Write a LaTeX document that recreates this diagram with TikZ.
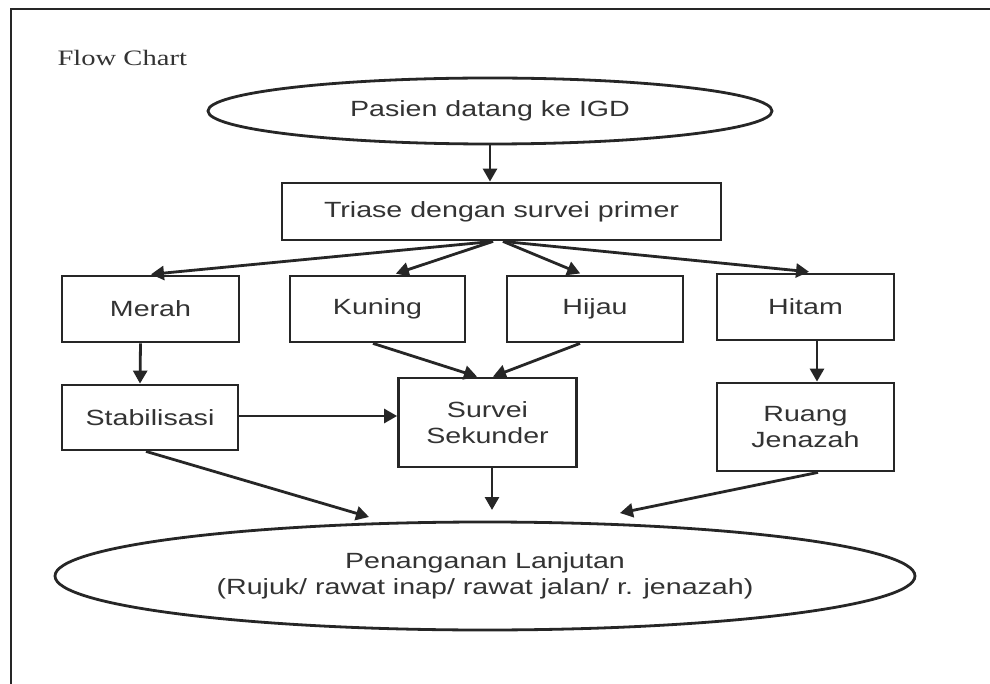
\documentclass[tikz,border=0pt]{standalone}
\usepackage{fontspec}
\setmainfont{Liberation Serif}
\newfontfamily\boxfont[FakeStretch=1.3]{Liberation Sans}
\newfontfamily\titlefont[FakeStretch=1.3]{Liberation Serif}
\usetikzlibrary{shapes.geometric,arrows.meta}
\definecolor{ink}{HTML}{262626}
\definecolor{txt}{HTML}{333333}
\tikzset{
  base/.style={draw=ink, line width=2.8pt, text=txt, inner sep=0pt, align=center,
    font=\boxfont\fontsize{22}{26}\selectfont},
  box/.style={base, rectangle, minimum width=#1},
  oval/.style={base, ellipse},
  arr/.style={draw=ink, line width=2.8pt, -{Triangle[length=13pt,width=14pt]}},
  frame/.style={draw=ink, line width=2.8pt}
}
\begin{document}
\begin{tikzpicture}[x=1pt,y=-1pt]
\useasboundingbox (0,0) rectangle (990,684);
\fill[white] (0,0) rectangle (990,684);
\draw[frame] (11,684) -- (11,9) -- (990,9);
\node[anchor=base west, text=txt, font=\titlefont\fontsize{22}{26}\selectfont] (title) at (54,66) {Flow Chart};

\node[oval, minimum width=564pt, minimum height=66pt] (pasien) at (490,111) {Pasien datang ke IGD};
\node[box=439pt, minimum height=57pt] (triase) at (501.5,211.5) {Triase dengan survei primer};

\node[box=177pt, minimum height=66pt] (merah) at (150.5,309) {Merah};
\node[box=175pt, minimum height=66pt] (kuning) at (377.5,309) {Kuning};
\node[box=176pt, minimum height=66pt] (hijau) at (595,309) {Hijau};
\node[box=177pt, minimum height=66pt] (hitam) at (805.5,307) {Hitam};

\node[box=176pt, minimum height=65pt] (stabil) at (150,417.5) {Stabilisasi};
\node[box=178pt, minimum height=89pt] (survei) at (487.5,422.5) {Survei\\Sekunder};
\node[box=177pt, minimum height=88pt] (ruang) at (805.5,427) {Ruang\\Jenazah};

\node[oval, minimum width=860pt, minimum height=108pt] (lanjut) at (485,576) {Penanganan Lanjutan\\(Rujuk/ rawat inap/ rawat jalan/ r. jenazah)};

% connectors
\draw[arr] (pasien.south) -- (pasien.south |- triase.north);
\coordinate (fanL) at ([xshift=-8.5pt]triase.south);
\coordinate (fanR) at ([xshift=1.5pt]triase.south);
\draw[arr, shorten >=3pt] (fanL) -- ([xshift=-2.5pt]merah.north);
\draw[arr, shorten >=3pt] (fanL) -- ([xshift=15.5pt]kuning.north);
\draw[arr, shorten >=3pt] (fanR) -- ([xshift=-12pt]hijau.north);
\draw[arr, shorten >=8pt] (fanR) -- ([xshift=11.5pt]hitam.north);

\draw[arr] ([xshift=-10pt]merah.south) -- ([xshift=-10pt]stabil.north);
\draw[arr] ([xshift=11.5pt]hitam.south) -- ([xshift=11.5pt]ruang.north);
\draw[arr] ([yshift=1.5pt]stabil.east) -- ([yshift=1.5pt]stabil.east -| survei.west);
\draw[arr] ([xshift=-4.5pt]kuning.south) -- ([xshift=-10.5pt]survei.north);
\draw[arr] ([xshift=-15pt]hijau.south) -- ([xshift=5.5pt]survei.north);

\coordinate (tipA) at (369,517);
\coordinate (tipB) at (492,510);
\coordinate (tipC) at (620,513);
\draw[arr] ([xshift=-4pt]stabil.south) -- (tipA);
\draw[arr] ([xshift=4.5pt]survei.south) -- (tipB);
\draw[arr] ([xshift=12.5pt]ruang.south) -- (tipC);
\end{tikzpicture}
\end{document}
